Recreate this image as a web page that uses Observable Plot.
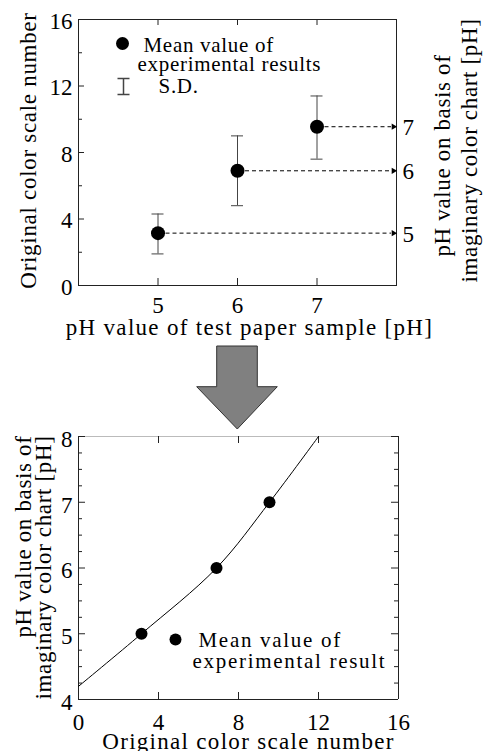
<!DOCTYPE html>
<html><head><meta charset="utf-8">
<script src="https://cdn.jsdelivr.net/npm/d3@7"></script>
<script src="https://cdn.jsdelivr.net/npm/@observablehq/plot@0.6"></script>
<style>
body{margin:0;background:#fff;}
#wrap{position:relative;width:486px;height:751px;overflow:hidden;}
#wrap svg, #wrap svg text{font-family:"Liberation Serif","Times New Roman",serif !important;}
#topPanel,#bottomPanel,#arrow{position:absolute;left:0;}
#topPanel{top:0}
#bottomPanel{top:430px}
#arrow{top:340px;left:190px}
</style>
</head><body>
<div id="wrap"><div id="topPanel"></div><svg id="arrow" width="100" height="95"></svg><div id="bottomPanel"></div></div>
<script>
// ---- data (top chart) ----
const phSample = [5, 6, 7];              // pH of test paper sample
const meanScale = [3.15, 6.9, 9.55];     // mean original color scale number
const sdLow = [1.9, 4.8, 7.6];
const sdHigh = [4.3, 9.0, 11.4];
const phChart = [5, 6, 7];               // pH on imaginary color chart
const topXDomain = [4, 8];
const topYDomain = [0, 16];
const topXTicks = [5, 6, 7];
const topYTicks = [0, 4, 8, 12, 16];
const topYMinor = [2, 6, 10, 14];

// ---- data (bottom chart) ----
const curveX = [0, 3.15, 6.9, 9.55, 12];
const curveY = [4.2, 5, 6, 7, 8];
const botXDomain = [0, 16];
const botYDomain = [4, 8];
const botXTicks = [0, 4, 8, 12, 16];
const botXInner = [4, 8, 12];
const botYTicks = [4, 5, 6, 7, 8];
const botYMinor = [4.25, 4.5, 4.75, 5.25, 5.5, 5.75, 6.25, 6.5, 6.75, 7.25, 7.5, 7.75];

// ---- texts ----
const topXLabel = "pH value of test paper sample [pH]";
const topYLabel = "Original color scale number";
const chartLabel1 = "pH value on basis of";
const chartLabel2 = "imaginary color chart [pH]";
const topLegend = ["Mean value of", "experimental results", "S.D."];
const botXLabel = "Original color scale number";
const botLegend = ["Mean value of", "experimental result"];

const serif = "'Liberation Serif', 'Times New Roman', serif";
const ink = "#222";
const T = {fill: "#000", fontFamily: serif, lineAnchor: "middle"};

function spaceText(svg, spacing) {
  d3.select(svg).selectAll("text").each(function () {
    const s = spacing[this.textContent];
    if (s != null) this.style.letterSpacing = s + "px";
  });
}

// ---------- top chart ----------
const tW = 486, tH = 345, tML = 78, tMR = 90, tMT = 19, tMB = 60;
const tPW = tW - tML - tMR, tPH = tH - tMT - tMB;
const topData = phSample.map((x, i) => ({x, m: meanScale[i], lo: sdLow[i], hi: sdHigh[i], c: phChart[i]}));

const sdSymbol = {draw(ctx) {
  ctx.moveTo(-6, -8); ctx.lineTo(6, -8);
  ctx.moveTo(0, -8); ctx.lineTo(0, 8);
  ctx.moveTo(-6, 8); ctx.lineTo(6, 8);
}};

const topChart = Plot.plot({
  width: tW, height: tH, marginLeft: tML, marginRight: tMR, marginTop: tMT, marginBottom: tMB,
  x: {domain: topXDomain}, y: {domain: topYDomain},
  style: {fontFamily: serif, color: "#000", background: "transparent", overflow: "visible"},
  marks: [
    Plot.frame({stroke: ink}),
    Plot.tickY(topYMinor, {y: d => d, insetRight: tPW - 4, stroke: ink}),
    Plot.tickY(topYTicks, {y: d => d, insetRight: tPW - 6, stroke: ink}),
    Plot.tickX(topXTicks, {x: d => d, insetBottom: tPH - 6, stroke: ink}),
    Plot.tickX(topXTicks, {x: d => d, insetTop: tPH - 7, stroke: ink}),
    Plot.axisY({ticks: topYTicks, tickSize: 0, tickPadding: 6, fontSize: 23, fontFamily: serif, label: null, dy: 2, tickFormat: d => d}),
    Plot.axisX({ticks: topXTicks, tickSize: 0, tickPadding: 11, fontSize: 23, fontFamily: serif, label: null, tickFormat: d => d}),
    // error bars
    Plot.ruleX(topData, {x: "x", y1: "lo", y2: "hi", stroke: "#444"}),
    Plot.ruleY(topData, {y: "hi", x1: "x", x2: "x", insetLeft: -6, insetRight: -6, stroke: "#444"}),
    Plot.ruleY(topData, {y: "lo", x1: "x", x2: "x", insetLeft: -6, insetRight: -6, stroke: "#444"}),
    // dashed arrows to right axis
    Plot.ruleY(topData, {y: "m", x1: "x", x2: () => topXDomain[1], insetLeft: 8, insetRight: 5, stroke: "#000", strokeDasharray: "4,3"}),
    Plot.dot(topData, {x: () => topXDomain[1], y: "m", symbol: "triangle2", rotate: 90, r: 3, fill: "#000", dx: -3}),
    Plot.dot(topData, {x: "x", y: "m", r: 7, fill: "#000"}),
    Plot.text(topData, {...T, x: () => topXDomain[1], y: "m", text: "c", textAnchor: "start", dx: 6, dy: 1, fontSize: 23}),
    // legend
    Plot.dot([0], {frameAnchor: "top-left", dx: 44, dy: 24, r: 6.5, fill: "#000"}),
    Plot.text([topLegend[0]], {...T, frameAnchor: "top-left", dx: 65, dy: 26, textAnchor: "start", fontSize: 21}),
    Plot.text([topLegend[1]], {...T, frameAnchor: "top-left", dx: 59, dy: 45, textAnchor: "start", fontSize: 21}),
    Plot.dot([0], {frameAnchor: "top-left", dx: 45, dy: 67, symbol: sdSymbol, stroke: "#444", fill: "none"}),
    Plot.text([topLegend[2]], {...T, frameAnchor: "top-left", dx: 80, dy: 67, textAnchor: "start", fontSize: 21}),
    // axis titles
    Plot.text([topXLabel], {...T, frameAnchor: "bottom", textAnchor: "middle", dx: 12, dy: 42, fontSize: 23}),
    Plot.text([topYLabel], {...T, frameAnchor: "left", textAnchor: "middle", rotate: -90, dx: -50, dy: -2, fontSize: 23}),
    Plot.text([chartLabel1], {...T, frameAnchor: "right", textAnchor: "middle", rotate: -90, dx: 46, dy: 3, fontSize: 23}),
    Plot.text([chartLabel2], {...T, frameAnchor: "right", textAnchor: "middle", rotate: -90, dx: 73, dy: -2, fontSize: 23})
  ]
});
spaceText(topChart, {
  [topXLabel]: 1.3, [topYLabel]: 0.7, [chartLabel1]: 0.65, [chartLabel2]: 0.65,
  [topLegend[0]]: 0.7, [topLegend[1]]: 0.7, [topLegend[2]]: 0.7
});
document.getElementById("topPanel").appendChild(topChart);

// ---------- big arrow between panels ----------
d3.select("#arrow").append("polygon")
  .attr("points", "26.7,6 67.3,6 67.3,46.7 87.3,46.7 47.3,89 6.7,46.7 26.7,46.7")
  .attr("fill", "#808080").attr("stroke", "#333").attr("stroke-width", 1);

// ---------- bottom chart ----------
const bW = 486, bH = 321, bML = 78, bMR = 88, bMT = 6, bMB = 52;
const bPW = bW - bML - bMR, bPH = bH - bMT - bMB;
const curveData = curveX.map((x, i) => ({x, y: curveY[i]}));
const meanData = meanScale.map((x, i) => ({x, y: phChart[i]}));

const bottomChart = Plot.plot({
  width: bW, height: bH, marginLeft: bML, marginRight: bMR, marginTop: bMT, marginBottom: bMB,
  x: {domain: botXDomain}, y: {domain: botYDomain},
  style: {fontFamily: serif, color: "#000", background: "transparent", overflow: "visible"},
  marks: [
    Plot.ruleY([botYDomain[1]], {stroke: "#bbb"}),
    Plot.ruleX(botXDomain, {stroke: ink}),
    Plot.ruleY([botYDomain[0]], {stroke: ink}),
    Plot.tickY(botYMinor, {y: d => d, insetRight: bPW - 4, stroke: ink}),
    Plot.tickY(botYTicks, {y: d => d, insetRight: bPW - 7, stroke: ink}),
    Plot.tickY(botYMinor, {y: d => d, insetLeft: bPW - 4, stroke: ink}),
    Plot.tickY(botYTicks, {y: d => d, insetLeft: bPW - 7, stroke: ink}),
    Plot.tickX(botXInner, {x: d => d, insetBottom: bPH - 7, stroke: ink}),
    Plot.tickX(botXInner, {x: d => d, insetTop: bPH - 7, stroke: ink}),
    Plot.axisY({ticks: botYTicks, tickSize: 0, tickPadding: 6, fontSize: 23, fontFamily: serif, label: null, dy: 3, tickFormat: d => d}),
    Plot.axisX({ticks: botXTicks, tickSize: 0, tickPadding: 14, fontSize: 23, fontFamily: serif, label: null, tickFormat: d => d}),
    Plot.line(curveData, {x: "x", y: "y", curve: "catmull-rom", stroke: "#000", strokeWidth: 1}),
    Plot.dot(meanData, {x: "x", y: "y", r: 6, fill: "#000"}),
    // legend
    Plot.dot([0], {frameAnchor: "top-left", dx: 97, dy: 203, r: 6, fill: "#000"}),
    Plot.text([botLegend[0]], {...T, frameAnchor: "top-left", dx: 120, dy: 204, textAnchor: "start", fontSize: 21}),
    Plot.text([botLegend[1]], {...T, frameAnchor: "top-left", dx: 114, dy: 225, textAnchor: "start", fontSize: 21}),
    // axis titles
    Plot.text([botXLabel], {...T, frameAnchor: "bottom", textAnchor: "middle", dx: 10, dy: 42, fontSize: 23}),
    Plot.text([chartLabel1], {...T, frameAnchor: "top-left", rotate: -90, textAnchor: "end", dx: -55, dy: -1, fontSize: 23}),
    Plot.text([chartLabel2], {...T, frameAnchor: "top-left", rotate: -90, textAnchor: "end", dx: -35, dy: -1, fontSize: 23})
  ]
});
spaceText(bottomChart, {
  [botXLabel]: 1.3, [chartLabel1]: 0.65, [chartLabel2]: 0.65,
  [botLegend[0]]: 1.7, [botLegend[1]]: 1.7
});
document.getElementById("bottomPanel").appendChild(bottomChart);
</script>
</body></html>
